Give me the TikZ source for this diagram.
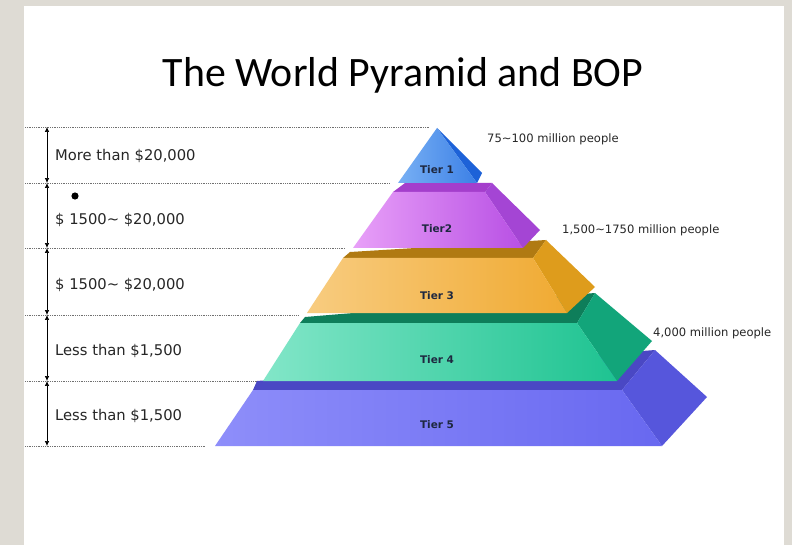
\documentclass[tikz,border=0pt]{standalone}
\usepackage{fontspec}
\setmainfont{DejaVu Sans}
\newfontfamily\titlefont{Carlito}
\usetikzlibrary{arrows.meta}

\definecolor{pagegray}{HTML}{DEDBD4}
\definecolor{rulegray}{HTML}{707070}
\definecolor{tierink}{HTML}{1E2840}
% tier palettes: top strip, side face, front light, front dark
\definecolor{fiveTop}{HTML}{4A48C4}
\definecolor{fiveSide}{HTML}{5656DC}
\definecolor{fiveA}{HTML}{8E8EFA}
\definecolor{fiveB}{HTML}{6868F0}
\definecolor{fourTop}{HTML}{0E7E5A}
\definecolor{fourSide}{HTML}{12A57A}
\definecolor{fourA}{HTML}{82E6C8}
\definecolor{fourB}{HTML}{1EC391}
\definecolor{threeTop}{HTML}{B07A12}
\definecolor{threeSide}{HTML}{DE9C1C}
\definecolor{threeA}{HTML}{F8CC80}
\definecolor{threeB}{HTML}{F0AA32}
\definecolor{twoTop}{HTML}{A43ECC}
\definecolor{twoSide}{HTML}{A445D4}
\definecolor{twoA}{HTML}{E8A0F8}
\definecolor{twoB}{HTML}{B850E4}
\definecolor{oneSide}{HTML}{1D62D8}
\definecolor{oneA}{HTML}{78B0F4}
\definecolor{oneB}{HTML}{3C80E6}

\tikzset{
  gridline/.style={rulegray, line width=0.6pt, dash pattern=on 1pt off 0.8pt},
  spanarrow/.style={black, line width=0.7pt, {Latex[length=5pt,width=4.5pt]}-{Latex[length=5pt,width=4.5pt]}},
  bandlabel/.style={anchor=west, font=\fontsize{14.8}{16}\selectfont, text=black!85, inner sep=0pt},
  poplabel/.style={anchor=west, font=\fontsize{11.6}{13}\selectfont, text=black!85, inner sep=0pt},
  tierlabel/.style={font=\bfseries\fontsize{10.5}{12}\selectfont, text=tierink, inner sep=0pt},
}

\begin{document}
\begin{tikzpicture}[x=1bp, y=-1bp]
  % page and slide
  \fill[pagegray] (0,0) rectangle (792,545);
  \fill[white] (24,6) rectangle (784,545);
  \useasboundingbox (0,0) rectangle (792,545);

  % title
  \node (title) at (403,75) {\titlefont\fontsize{42}{46}\selectfont The World Pyramid and BOP};

  % dotted band boundaries
  \draw[gridline] (25,127) -- (430,127);
  \draw[gridline] (25,183) -- (390,183);
  \draw[gridline] (25,248) -- (345,248);
  \draw[gridline] (25,315) -- (298,315);
  \draw[gridline] (25,381) -- (258,381);
  \draw[gridline] (25,446) -- (205,446);

  % span arrows between boundaries
  \coordinate (b0) at (47,127);
  \coordinate (b1) at (47,183);
  \coordinate (b2) at (47,248);
  \coordinate (b3) at (47,315);
  \coordinate (b4) at (47,381);
  \coordinate (b5) at (47,446);
  \draw[spanarrow] (b0) -- (b1);
  \draw[spanarrow] (b1) -- (b2);
  \draw[spanarrow] (b2) -- (b3);
  \draw[spanarrow] (b3) -- (b4);
  \draw[spanarrow] (b4) -- (b5);

  % income bands
  \node[bandlabel] (inc1) at (55,156) {More than \$20,000};
  \fill (75,196) circle (3.6);
  \node[bandlabel] (inc2) at (55,220) {\$ 1500\char`~\ \$20,000};
  \node[bandlabel] (inc3) at (55,285) {\$ 1500\char`~\ \$20,000};
  \node[bandlabel] (inc4) at (55,351) {Less than \$1,500};
  \node[bandlabel] (inc5) at (55,416) {Less than \$1,500};

  % ---- Tier 5 ----
  \fill[fiveTop] (253,390) -- (622,390) -- (655,350) -- (257,381) -- cycle;
  \fill[fiveSide] (622,390) -- (655,350) -- (707,397) -- (662,446) -- cycle;
  \shade[left color=fiveA, right color=fiveB]
    (253,390) -- (622,390) -- (662,446) -- (215,446) -- cycle;
  % ---- Tier 4 ----
  \fill[fourTop] (300,323) -- (577,323) -- (595,293) -- (305,317) -- cycle;
  \fill[fourSide] (577,323) -- (595,293) -- (652,341) -- (617,381) -- cycle;
  \shade[left color=fourA, right color=fourB]
    (300,323) -- (577,323) -- (617,381) -- (263,381) -- cycle;
  % ---- Tier 3 ----
  \fill[threeTop] (343,258) -- (533,258) -- (546,240) -- (350,252) -- cycle;
  \fill[threeSide] (533,258) -- (546,240) -- (595,287) -- (567,313) -- cycle;
  \shade[left color=threeA, right color=threeB]
    (343,258) -- (533,258) -- (567,313) -- (307,313) -- cycle;
  % ---- Tier 2 ----
  \fill[twoTop] (393,192) -- (485,192) -- (492,183) -- (405,183) -- cycle;
  \fill[twoSide] (485,192) -- (492,183) -- (540,230) -- (523,248) -- cycle;
  \shade[left color=twoA, right color=twoB]
    (393,192) -- (485,192) -- (523,248) -- (353,248) -- cycle;
  % ---- Tier 1 ----
  \fill[oneSide] (437,128) -- (482,173) -- (477,183) -- cycle;
  \shade[left color=oneA, right color=oneB]
    (437,128) -- (477,183) -- (398,183) -- cycle;

  % tier names
  \node[tierlabel] (t1) at (437,170) {Tier 1};
  \node[tierlabel] (t2) at (437,229) {Tier2};
  \node[tierlabel] (t3) at (437,296) {Tier 3};
  \node[tierlabel] (t4) at (437,360) {Tier 4};
  \node[tierlabel] (t5) at (437,425) {Tier 5};

  % population figures
  \node[poplabel] (p1) at (487,139) {75\char`~100 million people};
  \node[poplabel] (p2) at (562,230) {1,500\char`~1750 million people};
  \node[poplabel] (p3) at (653,333) {4,000 million people};
\end{tikzpicture}
\end{document}
